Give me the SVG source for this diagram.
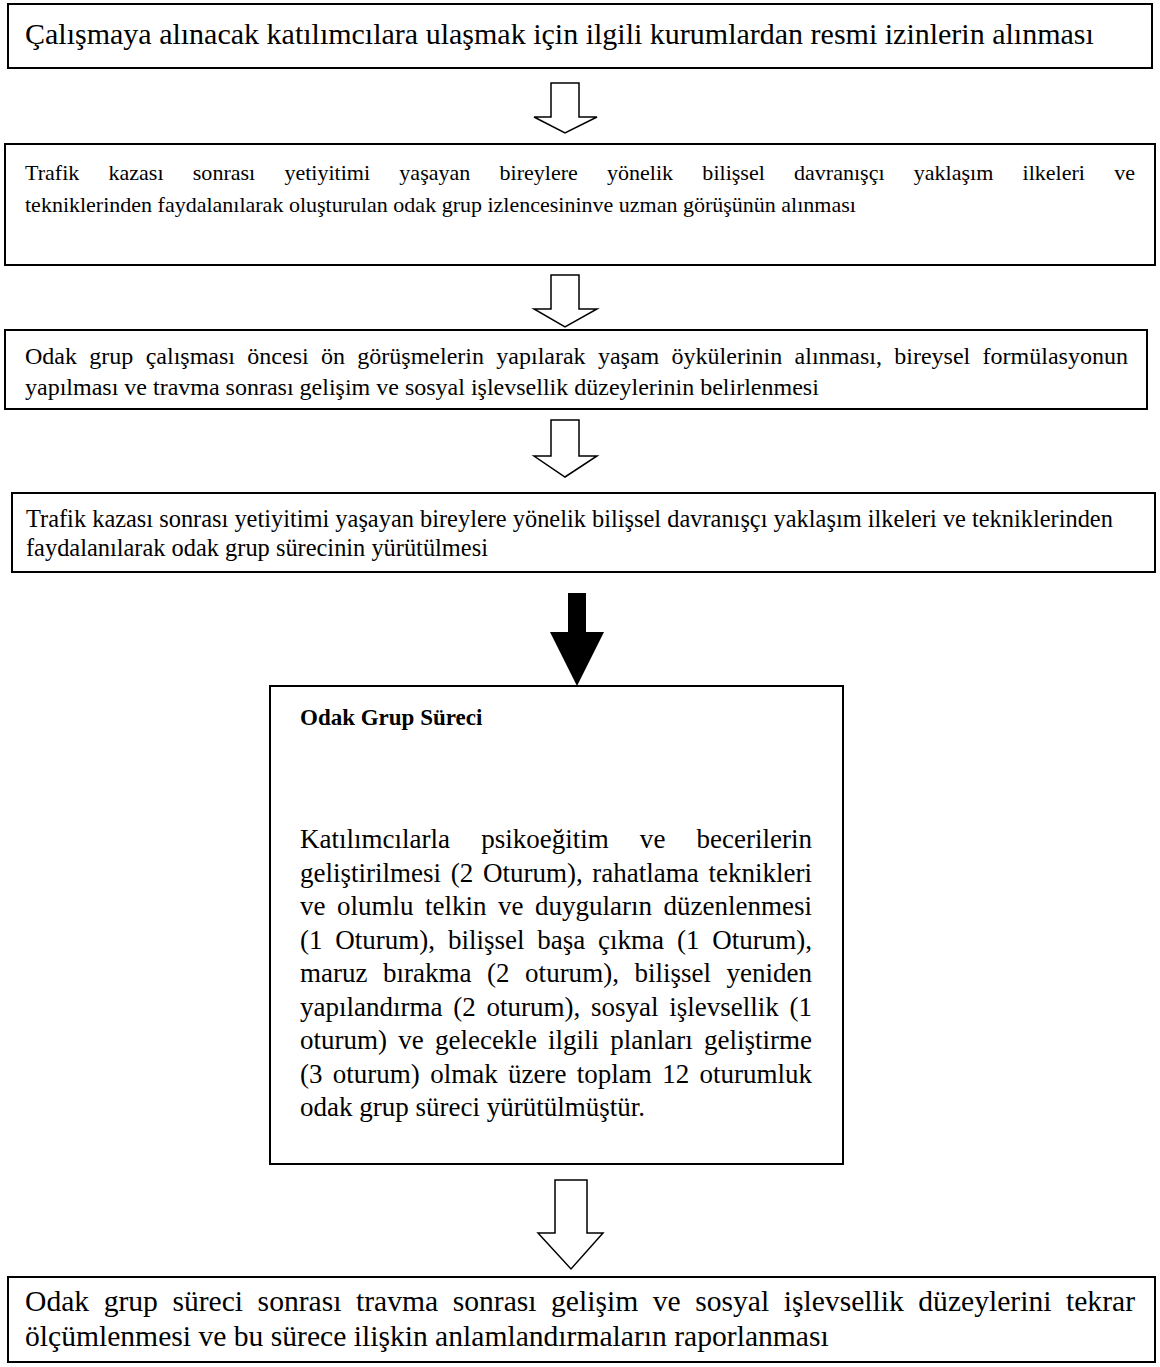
<svg xmlns="http://www.w3.org/2000/svg" width="1160" height="1367" viewBox="0 0 1160 1367">
  <style>
    .box { fill: #ffffff; stroke: #000000; stroke-width: 2; }
    .hollow { fill: #ffffff; stroke: #000000; stroke-width: 1.5; stroke-linejoin: miter; }
    .solid { fill: #000000; stroke: none; }
    text { font-family: "Liberation Serif", "Times New Roman", serif; fill: #000000; }
    .t1 { font-size: 30px; }
    .t2 { font-size: 22px; }
    .t3 { font-size: 24px; }
    .t4 { font-size: 24.4px; }
    .t5 { font-size: 27px; }
    .t5b { font-size: 23px; font-weight: bold; }
    .t6 { font-size: 29.6px; }
  </style>
  <rect width="1160" height="1367" fill="#ffffff"/>

  <!-- connectors -->
  <g id="connectors">
    <polygon class="hollow" points="551,83 579,83 579,117 597,117 565,133 534,117 551,117"/>
    <polygon class="hollow" points="551,275 579,275 579,309 597,309 565,327 534,309 551,309"/>
    <polygon class="hollow" points="551,420 579,420 579,456 597,456 565,477 534,456 551,456"/>
    <polygon class="solid" points="568,593 586,593 586,632 604,632 577,686 550,632 568,632"/>
    <polygon class="hollow" points="555,1180 587,1180 587,1233 603,1233 571,1269 538,1233 555,1233"/>
  </g>

  <!-- step 1 -->
  <g id="node-izinler">
    <rect class="box" x="8" y="4" width="1144" height="64"/>
    <text class="t1" x="25" y="44">Çalışmaya alınacak katılımcılara ulaşmak için ilgili kurumlardan resmi izinlerin alınması</text>
  </g>

  <!-- step 2 -->
  <g id="node-izlence">
    <rect class="box" x="5" y="144" width="1150" height="121"/>
    <text class="t2" x="25" y="180" textLength="1110" lengthAdjust="spacingAndGlyphs" word-spacing="23.7">Trafik kazası sonrası yetiyitimi yaşayan bireylere yönelik bilişsel davranışçı yaklaşım ilkeleri ve</text>
    <text class="t2" x="25" y="212">tekniklerinden faydalanılarak oluşturulan odak grup izlencesininve uzman görüşünün alınması</text>
  </g>

  <!-- step 3 -->
  <g id="node-on-gorusme">
    <rect class="box" x="5" y="330" width="1142" height="79"/>
    <text class="t3" x="25" y="364" textLength="1103" lengthAdjust="spacingAndGlyphs" word-spacing="6.3">Odak grup çalışması öncesi ön görüşmelerin yapılarak yaşam öykülerinin alınması, bireysel formülasyonun</text>
    <text class="t3" x="25" y="395">yapılması ve travma sonrası gelişim ve sosyal işlevsellik düzeylerinin belirlenmesi</text>
  </g>

  <!-- step 4 -->
  <g id="node-yurutme">
    <rect class="box" x="12" y="493" width="1143" height="79"/>
    <text class="t4" x="26" y="527">Trafik kazası sonrası yetiyitimi yaşayan bireylere yönelik bilişsel davranışçı yaklaşım ilkeleri ve tekniklerinden</text>
    <text class="t4" x="26" y="556">faydalanılarak odak grup sürecinin yürütülmesi</text>
  </g>

  <!-- focus group sessions -->
  <g id="node-surec">
    <rect class="box" x="270" y="686" width="573" height="478"/>
    <text class="t5b" x="300" y="725">Odak Grup Süreci</text>
    <text class="t5" x="300" y="848" textLength="512" lengthAdjust="spacingAndGlyphs" word-spacing="24.4">Katılımcılarla psikoeğitim ve becerilerin</text>
    <text class="t5" x="300" y="881.5" textLength="512" lengthAdjust="spacingAndGlyphs" word-spacing="2.95">geliştirilmesi (2 Oturum), rahatlama teknikleri</text>
    <text class="t5" x="300" y="915" textLength="512" lengthAdjust="spacingAndGlyphs" word-spacing="4.76">ve olumlu telkin ve duyguların düzenlenmesi</text>
    <text class="t5" x="300" y="948.5" textLength="512" lengthAdjust="spacingAndGlyphs" word-spacing="6.1">(1 Oturum), bilişsel başa çıkma (1 Oturum),</text>
    <text class="t5" x="300" y="982" textLength="512" lengthAdjust="spacingAndGlyphs" word-spacing="8.8">maruz bırakma (2 oturum), bilişsel yeniden</text>
    <text class="t5" x="300" y="1015.5" textLength="512" lengthAdjust="spacingAndGlyphs" word-spacing="4.0">yapılandırma (2 oturum), sosyal işlevsellik (1</text>
    <text class="t5" x="300" y="1049" textLength="512" lengthAdjust="spacingAndGlyphs" word-spacing="4.46">oturum) ve gelecekle ilgili planları geliştirme</text>
    <text class="t5" x="300" y="1082.5" textLength="512" lengthAdjust="spacingAndGlyphs" word-spacing="3.6">(3 oturum) olmak üzere toplam 12 oturumluk</text>
    <text class="t5" x="300" y="1116">odak grup süreci yürütülmüştür.</text>
  </g>

  <!-- final step -->
  <g id="node-rapor">
    <rect class="box" x="8" y="1277" width="1147" height="85"/>
    <text class="t6" x="25" y="1311" textLength="1110" lengthAdjust="spacingAndGlyphs" word-spacing="7.1">Odak grup süreci sonrası travma sonrası gelişim ve sosyal işlevsellik düzeylerini tekrar</text>
    <text class="t6" x="25" y="1346">ölçümlenmesi ve bu sürece ilişkin anlamlandırmaların raporlanması</text>
  </g>
</svg>
